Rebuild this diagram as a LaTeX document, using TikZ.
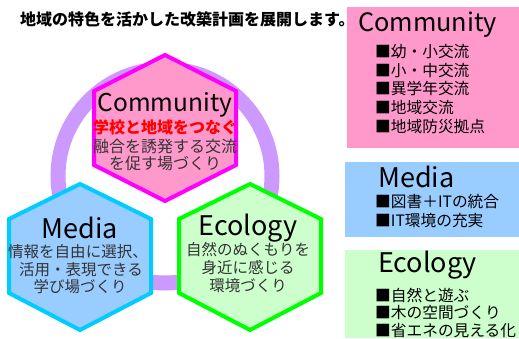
\documentclass[tikz,border=0pt]{standalone}
\usepackage{fontspec}
\setmainfont{Noto Sans CJK JP}
\definecolor{pinkc}{HTML}{FF99CC}
\definecolor{magc}{HTML}{FF00FF}
\definecolor{bluec}{HTML}{99CCFF}
\definecolor{cyanc}{HTML}{00CCFF}
\definecolor{greenc}{HTML}{CCFFCC}
\definecolor{lgreenc}{HTML}{00FF00}
\definecolor{ringc}{HTML}{CC99FF}
\definecolor{txtc}{HTML}{333333}
\begin{document}
\begin{tikzpicture}[x=1pt,y=-1pt,
  hexline/.style={line width=4pt, line join=miter},
  head/.style={inner sep=0pt, font=\fontsize{27}{27}\selectfont},
  desc/.style={inner sep=0pt, text=txtc, font=\fontsize{15.5}{15.5}\selectfont},
  item/.style={inner sep=0pt, anchor=west, font=\fontsize{15.7}{15.7}\selectfont}]
\useasboundingbox (0,0) rectangle (519,338);
% ring
\draw[ringc, line width=15pt] (165,176) circle[radius=107];
% hexagons
\filldraw[hexline, draw=magc, fill=pinkc] (165,55) -- (236,91) -- (236,165) -- (165,201) -- (94,165) -- (94,91) -- cycle;
\filldraw[hexline, draw=cyanc, fill=bluec] (80,184) -- (151,219) -- (151,293) -- (80,330) -- (9,293) -- (9,219) -- cycle;
\filldraw[hexline, draw=lgreenc, fill=greenc] (250,184) -- (321,219) -- (321,293) -- (250,330) -- (179,293) -- (179,219) -- cycle;
% title
\node[inner sep=0pt, anchor=west, font=\fontsize{16}{16}\selectfont\bfseries] (title) at (20,19) {地域の特色を活かした改築計画を展開します。};
% hexagon texts
\node[head, font=\fontsize{24.5}{24.5}\selectfont] (hc) at (165,105) {Community};
\node[inner sep=0pt, text=red, font=\fontsize{16}{16}\selectfont\bfseries] (hc1) at (165,127) {学校と地域をつなぐ};
\node[desc, font=\fontsize{16}{16}\selectfont] (hc2) at (165,146) {融合を誘発する交流};
\node[desc, font=\fontsize{16}{16}\selectfont] (hc3) at (165,163) {を促す場づくり};
\node[head] (hm) at (80,228) {Media};
\node[desc] (hm1) at (78,252) {情報を自由に選択、};
\node[desc] (hm2) at (81,270) {活用・表現できる};
\node[desc] (hm3) at (80,287) {学び場づくり};
\node[head] (he) at (248,228) {Ecology};
\node[desc] (he1) at (248,250) {自然のぬくもりを};
\node[desc] (he2) at (248,268) {身近に感じる};
\node[desc] (he3) at (248,286) {環境づくり};
% right boxes
\fill[pinkc] (347,7) rectangle (519,148);
\node[head, anchor=west, font=\fontsize{25.3}{25.3}\selectfont] (bc) at (358,25) {Community};
\node[item] (bc1) at (375,52) {■幼・小交流};
\node[item] (bc2) at (375,71) {■小・中交流};
\node[item] (bc3) at (375,89) {■異学年交流};
\node[item] (bc4) at (375,108) {■地域交流};
\node[item] (bc5) at (375,127) {■地域防災拠点};
\fill[bluec] (345,162) rectangle (519,237);
\node[head, anchor=west] (bm) at (378,177) {Media};
\node[item] (bm1) at (375,202) {■図書＋ITの統合};
\node[item] (bm2) at (375,221) {■IT環境の充実};
\fill[greenc] (345,250) rectangle (519,338);
\node[head, anchor=west] (be) at (378,265) {Ecology};
\node[item] (be1) at (375,295) {■自然と遊ぶ};
\node[item] (be2) at (375,313) {■木の空間づくり};
\node[item] (be3) at (375,330.5) {■省エネの見える化};
\end{tikzpicture}
\end{document}
